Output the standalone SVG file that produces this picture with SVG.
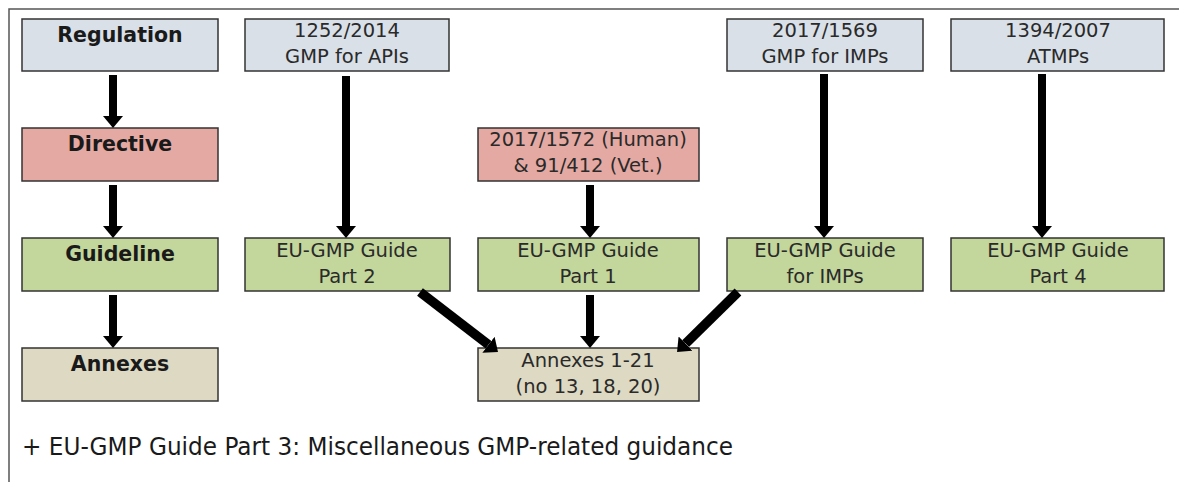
<svg xmlns="http://www.w3.org/2000/svg" width="1179" height="482" viewBox="0 0 1179 482">
<style>
.box{stroke:#333;stroke-width:1.5}
.reg{fill:#d9e0e8}
.dir{fill:#e4a9a2}
.gui{fill:#c3d69b}
.ann{fill:#ddd9c3}
.b{font-family:"DejaVu Sans",Verdana,sans-serif;font-weight:bold;font-size:20.5px;fill:#1a1a1a;text-anchor:middle}
.t{font-family:"DejaVu Sans",Verdana,sans-serif;font-size:19.5px;fill:#2a2a2a;text-anchor:middle}
.f{font-family:"DejaVu Sans",Verdana,sans-serif;font-size:24px;fill:#1a1a1a}
.c{stroke:#000;stroke-width:8;fill:none;marker-end:url(#ah)}
.cd{stroke:#000;stroke-width:9.5;fill:none;marker-end:url(#ah)}
</style>
<defs>
<marker id="ah" markerUnits="userSpaceOnUse" viewBox="0 0 12 20" markerWidth="12" markerHeight="20" refX="0" refY="10" orient="auto">
<path d="M0,0 L12,10 L0,20 z" fill="#000"/>
</marker>
</defs>
<rect width="1179" height="482" fill="#fff"/>
<path d="M9,482 L9,9 L1179,9" fill="none" stroke="#555" stroke-width="1.5"/>

<g id="regulation"><rect class="box reg" x="22" y="19" width="196" height="52"/><text class="b" x="120" y="42">Regulation</text></g>
<g id="directive"><rect class="box dir" x="22" y="128" width="196" height="53"/><text class="b" x="120" y="151">Directive</text></g>
<g id="guideline"><rect class="box gui" x="22" y="238" width="196" height="53"/><text class="b" x="120" y="261">Guideline</text></g>
<g id="annexes"><rect class="box ann" x="22" y="348" width="196" height="53"/><text class="b" x="120" y="371">Annexes</text></g>

<g id="reg-1252"><rect class="box reg" x="245" y="19" width="204" height="52"/><text class="t" x="347" y="37">1252/2014</text><text class="t" x="347" y="63">GMP for APIs</text></g>
<g id="reg-1569"><rect class="box reg" x="727" y="19" width="196" height="52"/><text class="t" x="825" y="37">2017/1569</text><text class="t" x="825" y="63">GMP for IMPs</text></g>
<g id="reg-1394"><rect class="box reg" x="951" y="19" width="213" height="52"/><text class="t" x="1058" y="37">1394/2007</text><text class="t" x="1058" y="63">ATMPs</text></g>

<g id="dir-1572"><rect class="box dir" x="478" y="128" width="221" height="53"/><text class="t" x="588" y="146">2017/1572 (Human)</text><text class="t" x="588" y="172">&amp; 91/412 (Vet.)</text></g>

<g id="guide-part2"><rect class="box gui" x="245" y="238" width="205" height="53"/><text class="t" x="347" y="257">EU-GMP Guide</text><text class="t" x="347" y="283">Part 2</text></g>
<g id="guide-part1"><rect class="box gui" x="478" y="238" width="221" height="53"/><text class="t" x="588" y="257">EU-GMP Guide</text><text class="t" x="588" y="283">Part 1</text></g>
<g id="guide-imps"><rect class="box gui" x="727" y="238" width="196" height="53"/><text class="t" x="825" y="257">EU-GMP Guide</text><text class="t" x="825" y="283">for IMPs</text></g>
<g id="guide-part4"><rect class="box gui" x="951" y="238" width="213" height="53"/><text class="t" x="1058" y="257">EU-GMP Guide</text><text class="t" x="1058" y="283">Part 4</text></g>

<g id="annexes-1-21"><rect class="box ann" x="478" y="348" width="221" height="53"/><text class="t" x="588" y="367">Annexes 1-21</text><text class="t" x="588" y="393">(no 13, 18, 20)</text></g>

<g id="connectors">
<path class="c" d="M113,75 L113,116"/>
<path class="c" d="M113,185 L113,226"/>
<path class="c" d="M113,295 L113,336"/>
<path class="c" d="M346,76 L346,226"/>
<path class="c" d="M590,185 L590,226"/>
<path class="c" d="M824,74 L824,226"/>
<path class="c" d="M1042,74 L1042,226"/>
<path class="c" d="M590,295 L590,336"/>
<path class="cd" d="M420,292 L488.5,344.7"/>
<path class="cd" d="M738,292 L685.6,343.6"/>
</g>

<text class="f" x="22" y="455" textLength="711" lengthAdjust="spacingAndGlyphs">+ EU-GMP Guide Part 3: Miscellaneous GMP-related guidance</text>
</svg>
